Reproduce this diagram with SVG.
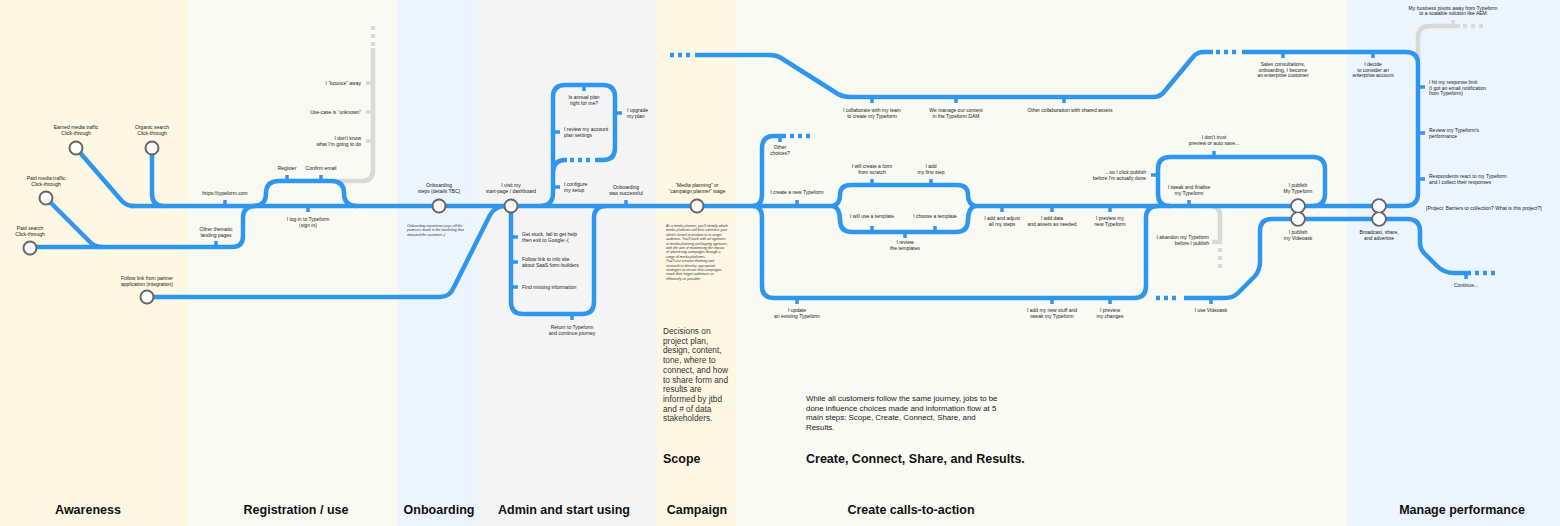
<svg xmlns="http://www.w3.org/2000/svg" width="1560" height="526" viewBox="0 0 1560 526">
<style>
.ln{fill:none;stroke:#2f96ef;stroke-width:4.5;stroke-linejoin:round}
.gr{fill:none;stroke:#d9d9d9;stroke-width:4.5}
.dt{stroke-dasharray:4 4}
.tk{stroke:#2f96ef;stroke-width:3.5}
.tg{stroke:#d9d9d9;stroke-width:3.5}
.st{fill:#fff;stroke:#666;stroke-width:2}
.sf{fill:#fff}
text{font-family:"Liberation Sans",Arial,sans-serif;fill:#1a1a1a}
.t{font-size:5px}
.c{text-anchor:middle}
.e{text-anchor:end}
.i{font-style:italic;font-size:3.5px;fill:#333}
.h{font-weight:bold;font-size:12.5px;fill:#111}
.p{font-size:8.3px;fill:#333}
.q{font-size:7.9px;fill:#222}
</style>
<g id="bands">
<rect x="0" y="0" width="189" height="526" fill="#fdf7e3"/>
<rect x="189" y="0" width="209" height="526" fill="#f8faf3"/>
<rect x="398" y="0" width="80" height="526" fill="#ecf4fd"/>
<rect x="478" y="0" width="179" height="526" fill="#f4f4f4"/>
<rect x="657" y="0" width="80" height="526" fill="#fdf7e3"/>
<rect x="737" y="0" width="610" height="526" fill="#f8faf3"/>
<rect x="1347" y="0" width="213" height="526" fill="#ecf4fd"/>
</g>
<g id="connectors">
<path class="gr" d="M333,181 H362 Q373,181 373,170 V48"/>
<path class="gr dt" d="M373,46 V22"/>
<path class="gr" d="M1210,206 Q1220,206 1220,216 V242 H1212"/>
<path class="gr dt" d="M1220,248 V272"/>
<path class="gr" d="M1418,60 V38 Q1418,26 1430,26 H1460"/>
<path class="gr dt" d="M1463,26 H1487"/>
<path class="ln" d="M30,247 H232 Q243,247 243,236 V218 Q243,206 255,206"/>
<path class="ln" d="M46,198 L90,242 Q95,247 102,247"/>
<path class="ln" d="M76,148 L121,200 Q126,206 134,206"/>
<path class="ln" d="M152,148 V194 Q152,206 164,206"/>
<path class="ln" d="M130,206 H835 M973,206 H1405 Q1418,206 1418,193 V64 Q1418,52 1406,52 H1242"/>
<path class="ln" d="M254,206 Q266,206 266,193 Q266,181 279,181 H331 Q344,181 344,193 Q344,206 357,206"/>
<path class="ln" d="M147,297 H440 Q450,297 454,287 L490,215 Q495,206 505,206"/>
<path class="ln" d="M511,206 V302 Q511,314 523,314 H582 Q594,314 594,302 V218 Q594,206 606,206"/>
<path class="ln" d="M540,206 Q553,206 553,193 V97 Q553,85 565,85 H603 Q615,85 615,97 V148 Q615,160 603,160 H595 M553,174 Q553,160 565,160 H567"/>
<path class="ln dt" d="M570,160 H594"/>
<path class="ln dt" d="M670,55 H694"/>
<path class="ln" d="M695,55 H770 Q776,55 781,58 L838,94 Q843,97 850,97 H1153 Q1160,97 1164,92 L1193,57 Q1197,52 1204,52 H1213"/>
<path class="ln dt" d="M1216,52 H1240"/>
<path class="ln" d="M753,206 Q762,206 762,194 V148 Q762,136 774,136 H786"/>
<path class="ln dt" d="M790,136 H814"/>
<path class="ln" d="M753,206 Q762,206 762,218 V286 Q762,298 774,298 H1134 Q1146,298 1146,286 V218 Q1146,206 1158,206"/>
<path class="ln" d="M833,206 Q840,204 840,195 Q840,185 851,185 H957 Q968,185 968,195 Q968,204 975,206 M833,206 Q840,208 840,220 Q840,232 852,232 H956 Q968,232 968,220 Q968,208 975,206"/>
<path class="ln" d="M1170,206 Q1158,206 1158,194 V169 Q1158,157 1170,157 H1313 Q1325,157 1325,169 V194 Q1325,206 1313,206"/>
<path class="ln dt" d="M1156,298 H1180"/>
<path class="ln" d="M1184,298 H1225 Q1233,298 1238,293 L1255,276 Q1260,270 1260,262 V231 Q1260,219 1272,219 H1407 Q1420,219 1420,231 V243 Q1420,249 1425,254 L1437,266 Q1444,273 1454,273 H1471"/>
<path class="ln dt" d="M1475,273 H1499"/>
</g>
<g id="n-paid-search"><circle class="st" cx="30" cy="248" r="6.5"/><text class="t c"><tspan x="30" y="230">Paid search</tspan><tspan x="30" y="235.5">Click-through</tspan></text></g>
<g id="n-paid-media"><circle class="st" cx="46" cy="198" r="6.5"/><text class="t c"><tspan x="46" y="180">Paid media traffic</tspan><tspan x="46" y="185.5">Click-through</tspan></text></g>
<g id="n-earned"><circle class="st" cx="76" cy="148" r="6.5"/><text class="t c"><tspan x="76" y="129">Earned media traffic</tspan><tspan x="76" y="134.5">Click-through</tspan></text></g>
<g id="n-organic"><circle class="st" cx="152" cy="148" r="6.5"/><text class="t c"><tspan x="152" y="129">Organic search</tspan><tspan x="152" y="134.5">Click-through</tspan></text></g>
<g id="n-partner"><circle class="st" cx="147" cy="297" r="6.5"/><text class="t c"><tspan x="147" y="280">Follow link from partner</tspan><tspan x="147" y="285.5">application (integration)</tspan></text></g>
<g id="n-typeform-com"><line class="tk" x1="225" y1="200" x2="225" y2="206"/><text class="t c" x="225" y="195">https://typeform.com</text></g>
<g id="n-landing"><line class="tk" x1="216" y1="241" x2="216" y2="247"/><text class="t c"><tspan x="216" y="231">Other thematic</tspan><tspan x="216" y="236.5">landing pages</tspan></text></g>
<g id="n-register"><line class="tk" x1="287" y1="175" x2="287" y2="181"/><text class="t c" x="287" y="170">Register</text></g>
<g id="n-confirm"><line class="tk" x1="321" y1="175" x2="321" y2="181"/><text class="t c" x="321" y="170">Confirm email</text></g>
<g id="n-login"><line class="tk" x1="308" y1="206" x2="308" y2="212"/><text class="t c"><tspan x="308" y="221">I log-in to Typeform</tspan><tspan x="308" y="226.5">(sign in)</tspan></text></g>
<g id="n-bounce"><line class="tg" x1="366" y1="83" x2="373" y2="83"/><text class="t e" x="361" y="85">I “bounce” away</text></g>
<g id="n-unknown"><line class="tg" x1="366" y1="112" x2="373" y2="112"/><text class="t e" x="361" y="114">Use-case is “unknown”</text></g>
<g id="n-dontknow"><line class="tg" x1="366" y1="141" x2="373" y2="141"/><text class="t e"><tspan x="361" y="140">I don't know</tspan><tspan x="361" y="145.5">what I'm going to do</tspan></text></g>
<g id="n-onboarding"><circle class="st" cx="439" cy="206" r="6.5"/><text class="t c"><tspan x="439" y="187">Onboarding</tspan><tspan x="439" y="192.5">steps (details TBC)</tspan></text>
<text class="i"><tspan x="407" y="227">Onboarding experience pays off the</tspan><tspan x="407" y="231.4">promises made in the marketing that</tspan><tspan x="407" y="235.8">attracted the customer:-)</tspan></text></g>
<g id="n-visit"><circle class="st" cx="511" cy="206" r="6.5"/><text class="t c"><tspan x="511" y="187">I visit my</tspan><tspan x="511" y="192.5">start-page / dashboard</tspan></text></g>
<g id="n-stuck"><line class="tk" x1="511" y1="237" x2="518" y2="237"/><text class="t"><tspan x="522" y="236">Get stuck, fail to get help</tspan><tspan x="522" y="241.5">then exit to Google:-(</tspan></text></g>
<g id="n-info"><line class="tk" x1="511" y1="262" x2="518" y2="262"/><text class="t"><tspan x="522" y="261">Follow link to info site</tspan><tspan x="522" y="266.5">about SaaS form-builders</tspan></text></g>
<g id="n-missing"><line class="tk" x1="511" y1="287" x2="518" y2="287"/><text class="t" x="522" y="289">Find missing information</text></g>
<g id="n-return"><line class="tk" x1="572" y1="314" x2="572" y2="320"/><text class="t c"><tspan x="572" y="329">Return to Typeform</tspan><tspan x="572" y="334.5">and continue journey</tspan></text></g>
<g id="n-success"><line class="tk" x1="626" y1="200" x2="626" y2="206"/><text class="t c"><tspan x="626" y="189">Onboarding</tspan><tspan x="626" y="194.5">was successful</tspan></text></g>
<g id="n-configure"><line class="tk" x1="553" y1="187" x2="560" y2="187"/><text class="t"><tspan x="564" y="186">I configure</tspan><tspan x="564" y="191.5">my setup</tspan></text></g>
<g id="n-review-account"><line class="tk" x1="553" y1="132" x2="560" y2="132"/><text class="t"><tspan x="564" y="131">I review my account</tspan><tspan x="564" y="136.5">plan settings</tspan></text></g>
<g id="n-annual"><line class="tk" x1="584" y1="85" x2="584" y2="91"/><text class="t c"><tspan x="584" y="99">Is annual plan</tspan><tspan x="584" y="104.5">right for me?</tspan></text></g>
<g id="n-upgrade"><line class="tk" x1="615" y1="113" x2="622" y2="113"/><text class="t"><tspan x="627" y="112">I upgrade</tspan><tspan x="627" y="117.5">my plan</tspan></text></g>
<g id="n-campaign"><circle class="st" cx="697" cy="206" r="6.5"/><text class="t c"><tspan x="697" y="187">“Media planning” or</tspan><tspan x="697" y="192.5">“campaign planner” stage</tspan></text>
<text class="i"><tspan x="666" y="227">As a media planner, you'll identify which</tspan><tspan x="666" y="231.4">media platforms will best advertise your</tspan><tspan x="666" y="235.8">client's brand or product to its target</tspan><tspan x="666" y="240.2">audience. You'll work with ad agencies</tspan><tspan x="666" y="244.6">or media planning and buying agencies,</tspan><tspan x="666" y="249">with the aim of maximising the impact</tspan><tspan x="666" y="253.4">of advertising campaigns through a</tspan><tspan x="666" y="257.8">range of media platforms.</tspan><tspan x="666" y="262.2">You'll use creative thinking and</tspan><tspan x="666" y="266.6">research to develop appropriate</tspan><tspan x="666" y="271">strategies to ensure that campaigns</tspan><tspan x="666" y="275.4">reach their target audiences as</tspan><tspan x="666" y="279.8">effectively as possible.</tspan></text></g>
<g id="n-collaborate"><line class="tk" x1="872" y1="97" x2="872" y2="103"/><text class="t c"><tspan x="872" y="112">I collaborate with my team</tspan><tspan x="872" y="117.5">to create my Typeform</tspan></text></g>
<g id="n-dam"><line class="tk" x1="956" y1="97" x2="956" y2="103"/><text class="t c"><tspan x="956" y="112">We manage our content</tspan><tspan x="956" y="117.5">in the Typeform DAM</tspan></text></g>
<g id="n-shared"><line class="tk" x1="1064" y1="97" x2="1064" y2="103"/><text class="t c" x="1070" y="112">Other collaboration with shared assets</text></g>
<g id="n-sales"><line class="tk" x1="1283" y1="52" x2="1283" y2="58"/><text class="t c"><tspan x="1283" y="66">Sales consultations,</tspan><tspan x="1283" y="71.5">onboarding, I become</tspan><tspan x="1283" y="77">an enterprise customer</tspan></text></g>
<g id="n-other"><line class="tk" x1="780" y1="136" x2="780" y2="142"/><text class="t c"><tspan x="780" y="149">Other</tspan><tspan x="780" y="154.5">choices?</tspan></text></g>
<g id="n-create-new"><line class="tk" x1="797" y1="200" x2="797" y2="206"/><text class="t c" x="797" y="194">I create a new Typeform</text></g>
<g id="n-update"><line class="tk" x1="797" y1="298" x2="797" y2="304"/><text class="t c"><tspan x="797" y="312">I update</tspan><tspan x="797" y="317.5">an existing Typeform</tspan></text></g>
<g id="n-scratch"><line class="tk" x1="872" y1="179" x2="872" y2="185"/><text class="t c"><tspan x="872" y="168">I will create a form</tspan><tspan x="872" y="173.5">from scratch</tspan></text></g>
<g id="n-first-step"><line class="tk" x1="931" y1="179" x2="931" y2="185"/><text class="t c"><tspan x="931" y="168">I add</tspan><tspan x="931" y="173.5">my first step</tspan></text></g>
<g id="n-use-template"><line class="tk" x1="872" y1="226" x2="872" y2="232"/><text class="t c" x="872" y="218">I will use a template</text></g>
<g id="n-choose-template"><line class="tk" x1="935" y1="226" x2="935" y2="232"/><text class="t c" x="935" y="218">I choose a template</text></g>
<g id="n-review-templates"><line class="tk" x1="905" y1="232" x2="905" y2="238"/><text class="t c"><tspan x="905" y="244">I review</tspan><tspan x="905" y="249.5">the templates</tspan></text></g>
<g id="n-adjust"><line class="tk" x1="1002" y1="206" x2="1002" y2="212"/><text class="t c"><tspan x="1002" y="220">I add and adjust</tspan><tspan x="1002" y="225.5">all my steps</tspan></text></g>
<g id="n-data"><line class="tk" x1="1052" y1="206" x2="1052" y2="212"/><text class="t c"><tspan x="1052" y="220">I add data</tspan><tspan x="1052" y="225.5">and assets as needed</tspan></text></g>
<g id="n-preview-new"><line class="tk" x1="1110" y1="206" x2="1110" y2="212"/><text class="t c"><tspan x="1110" y="220">I preview my</tspan><tspan x="1110" y="225.5">new Typeform</tspan></text></g>
<g id="n-new-stuff"><line class="tk" x1="1052" y1="298" x2="1052" y2="304"/><text class="t c"><tspan x="1052" y="312">I add my new stuff and</tspan><tspan x="1052" y="317.5">tweak my Typeform</tspan></text></g>
<g id="n-preview-changes"><line class="tk" x1="1110" y1="298" x2="1110" y2="304"/><text class="t c"><tspan x="1110" y="312">I preview</tspan><tspan x="1110" y="317.5">my changes</tspan></text></g>
<g id="n-trust"><line class="tk" x1="1214" y1="151" x2="1214" y2="157"/><text class="t c"><tspan x="1214" y="139">I don't trust</tspan><tspan x="1214" y="144.5">preview or auto save...</tspan></text></g>
<g id="n-click-publish"><line class="tk" x1="1151" y1="175" x2="1158" y2="175"/><text class="t e"><tspan x="1146" y="174">...so I click publish</tspan><tspan x="1146" y="179.5">before I'm actually done</tspan></text></g>
<g id="n-tweak"><line class="tk" x1="1189" y1="200" x2="1189" y2="206"/><text class="t c"><tspan x="1189" y="189">I tweak and finalise</tspan><tspan x="1189" y="194.5">my Typeform</tspan></text></g>
<g id="n-abandon"><text class="t e"><tspan x="1209" y="239">I abandon my Typeform</tspan><tspan x="1209" y="244.5">before I publish</tspan></text></g>
<g id="n-videoask-use"><line class="tk" x1="1211" y1="298" x2="1211" y2="304"/><text class="t c" x="1211" y="312">I use Videoask</text></g>
<g id="n-publish"><circle class="st" cx="1298" cy="206" r="6.8"/><circle class="st" cx="1298" cy="219" r="6.8"/><circle class="sf" cx="1298" cy="206" r="5.8"/><circle class="sf" cx="1298" cy="219" r="5.8"/><text class="t c"><tspan x="1298" y="187">I publish</tspan><tspan x="1298" y="192.5">My Typeform</tspan></text><text class="t c"><tspan x="1298" y="234">I publish</tspan><tspan x="1298" y="239.5">my Videoask</tspan></text></g>
<g id="n-broadcast"><circle class="st" cx="1379" cy="206" r="6.8"/><circle class="st" cx="1379" cy="219" r="6.8"/><circle class="sf" cx="1379" cy="206" r="5.8"/><circle class="sf" cx="1379" cy="219" r="5.8"/><text class="t c"><tspan x="1379" y="234">Broadcast, share,</tspan><tspan x="1379" y="239.5">and advertise</tspan></text></g>
<g id="n-decide"><line class="tk" x1="1373" y1="52" x2="1373" y2="58"/><text class="t c"><tspan x="1373" y="66">I decide</tspan><tspan x="1373" y="71.5">to consider an</tspan><tspan x="1373" y="77">enterprise account</tspan></text></g>
<g id="n-pivot"><line class="tg" x1="1453" y1="20" x2="1453" y2="26"/><text class="t c"><tspan x="1453" y="9.5">My business pivots away from Typeform</tspan><tspan x="1453" y="15">to a scalable solution like AEM</tspan></text></g>
<g id="n-limit"><line class="tk" x1="1418" y1="87" x2="1425" y2="87"/><text class="t"><tspan x="1429" y="84">I hit my response limit</tspan><tspan x="1429" y="89.5">(I got an email notification</tspan><tspan x="1429" y="95">from Typeform)</tspan></text></g>
<g id="n-review-perf"><line class="tk" x1="1418" y1="133" x2="1425" y2="133"/><text class="t"><tspan x="1429" y="132">Review my Typeform's</tspan><tspan x="1429" y="137.5">performance</tspan></text></g>
<g id="n-respond"><line class="tk" x1="1418" y1="179" x2="1425" y2="179"/><text class="t"><tspan x="1429" y="178">Respondents react to my Typeform</tspan><tspan x="1429" y="183.5">and I collect their responses</tspan></text></g>
<g id="n-project"><text class="t" x="1426" y="210">[Project: Barriers to collection? What is this project?]</text></g>
<g id="n-continue"><line class="tk" x1="1466" y1="273" x2="1466" y2="279"/><text class="t c" x="1466" y="287">Continue...</text></g>
<g id="notes">
<text class="p"><tspan x="663" y="334">Decisions on</tspan><tspan x="663" y="343.7">project plan,</tspan><tspan x="663" y="353.4">design, content,</tspan><tspan x="663" y="363.1">tone, where to</tspan><tspan x="663" y="372.8">connect, and how</tspan><tspan x="663" y="382.5">to share form and</tspan><tspan x="663" y="392.2">results are</tspan><tspan x="663" y="401.9">informed by jtbd</tspan><tspan x="663" y="411.6">and # of data</tspan><tspan x="663" y="421.3">stakeholders.</tspan></text>
<text class="q"><tspan x="806" y="401">While all customers follow the same journey, jobs to be</tspan><tspan x="806" y="410.7">done influence choices made and information flow at 5</tspan><tspan x="806" y="420.4">main steps: Scope, Create, Connect, Share, and</tspan><tspan x="806" y="430.1">Results.</tspan></text>
<text class="h" x="663" y="463">Scope</text>
<text class="h" x="806" y="463">Create, Connect, Share, and Results.</text>
</g>
<g id="band-labels">
<text class="h c" x="88" y="514">Awareness</text>
<text class="h c" x="296" y="514">Registration / use</text>
<text class="h c" x="439" y="514">Onboarding</text>
<text class="h c" x="564" y="514">Admin and start using</text>
<text class="h c" x="697" y="514">Campaign</text>
<text class="h c" x="911" y="514">Create calls-to-action</text>
<text class="h c" x="1462" y="514">Manage performance</text>
</g>
</svg>
